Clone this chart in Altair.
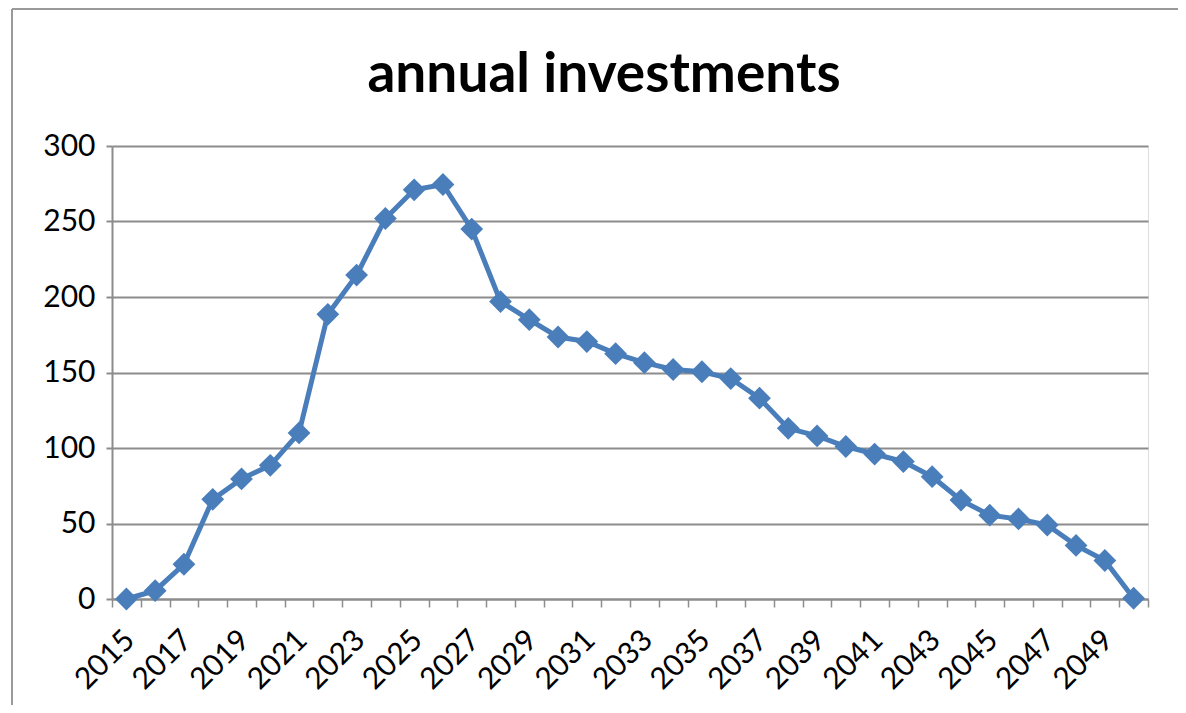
import altair as alt
import pandas as pd

years = list(range(2015, 2051))
values = [0, 5.5, 23, 66, 79.5, 88.5, 110, 188.5, 214.5, 252, 271, 274.5,
          245, 197, 185, 173.5, 170.5, 162.5, 156.5, 152, 150.5, 146, 133,
          113, 108, 101, 96, 91, 81, 65.5, 55.5, 53, 49, 35.5, 25.5, 0.5]
y_ticks = [0, 50, 100, 150, 200, 250, 300]

df = pd.DataFrame({"year": years, "value": values})

BLUE = "#4a7ebb"
GRAY = "#8c8c8c"
FONT = "Lato"

x_axis = alt.Axis(
    values=years,
    labelExpr="datum.value % 2 == 1 ? datum.label : ''",
    labelAngle=-45,
    labelAlign="right",
    labelBaseline="middle",
    labelOffset=3,
    labelPadding=28,
    labelFont=FONT,
    labelFontSize=30,
    labelColor="black",
    labelOverlap=False,
    labelFlush=False,
    tickBand="extent",
    tickSize=8,
    tickWidth=1.5,
    tickColor=GRAY,
    domainColor=GRAY,
    domainWidth=2,
    grid=False,
    title=None,
)

y_axis = alt.Axis(
    values=y_ticks,
    grid=True,
    gridColor=GRAY,
    gridWidth=2,
    domainColor=GRAY,
    domainWidth=2,
    tickColor=GRAY,
    tickWidth=2,
    tickSize=6,
    labelFont=FONT,
    labelFontSize=30,
    labelColor="black",
    labelPadding=11,
    labelFlush=False,
    title=None,
)

x_enc = alt.X("year:O", scale=alt.Scale(type="band", paddingInner=0, paddingOuter=0), axis=x_axis)
y_enc = alt.Y("value:Q", scale=alt.Scale(domain=[0, 300], nice=False), axis=y_axis)

base = alt.Chart(df)
line = base.mark_line(color=BLUE, strokeWidth=5).encode(x=x_enc, y=y_enc)
pts = base.mark_point(shape="diamond", filled=True, size=520, color=BLUE, opacity=1).encode(x=x_enc, y=y_enc)

frame_df = pd.DataFrame({"k": [0]})
frame_left = alt.Chart(frame_df).mark_rule(color="#9a9a9a", strokeWidth=2).encode(
    x=alt.value(-100), y=alt.value(-137), y2=alt.value(560))
frame_top = alt.Chart(frame_df).mark_rule(color="#9a9a9a", strokeWidth=2).encode(
    x=alt.value(-100), x2=alt.value(1070), y=alt.value(-137))

chart = alt.layer(frame_left, frame_top, line, pts).properties(
    width=1036,
    height=453,
    title=alt.TitleParams(
        "annual investments",
        font=FONT,
        fontSize=55,
        fontWeight="bold",
        color="black",
        anchor="middle",
        baseline="alphabetic",
        offset=0,
        dy=139,
        dx=-26,
    ),
    autosize=alt.AutoSizeParams(type="none"),
    padding={"left": 104, "top": 138, "right": 30, "bottom": 106},
).configure_view(stroke=None).configure(background="white")

chart.save("out.html", embed_options={"renderer": "svg", "actions": False})
